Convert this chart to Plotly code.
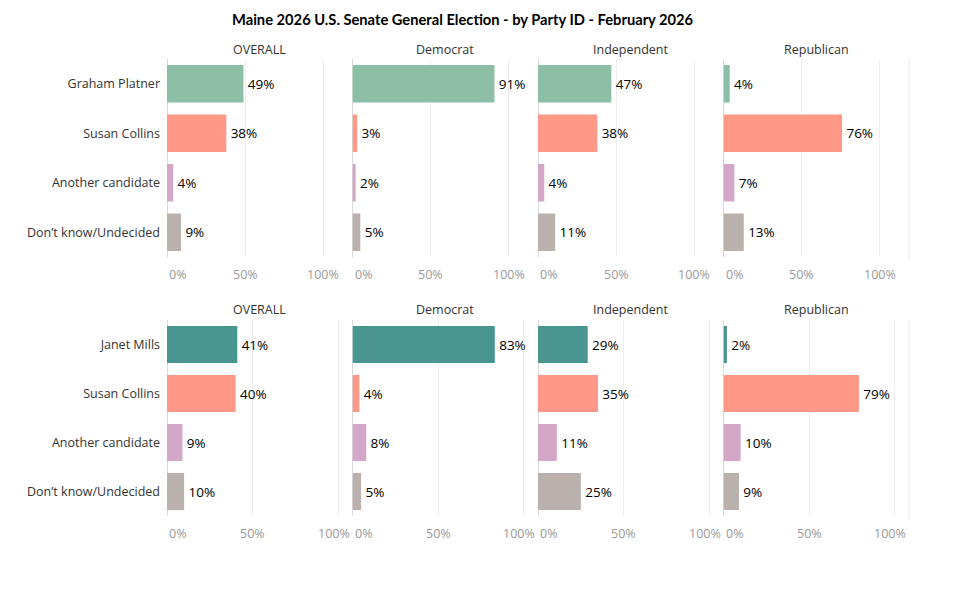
import plotly.graph_objects as go

# ---------------- data ----------------
title_text = "Maine 2026 U.S. Senate General Election - by Party ID - February 2026"
groups = ["OVERALL", "Democrat", "Independent", "Republican"]

categories_top = ["Graham Platner", "Susan Collins", "Another candidate", "Don’t know/Undecided"]
categories_bottom = ["Janet Mills", "Susan Collins", "Another candidate", "Don’t know/Undecided"]

top_overall = [49, 38, 4, 9]
top_democrat = [91, 3, 2, 5]
top_independent = [47, 38, 4, 11]
top_republican = [4, 76, 7, 13]

bottom_overall = [41, 40, 9, 10]
bottom_democrat = [83, 4, 8, 5]
bottom_independent = [29, 35, 11, 25]
bottom_republican = [2, 79, 10, 9]

tick_vals = [0, 0.5, 1.0]
tick_text = ["0%", "50%", "100%"]

colors_top = ["#8DBFA6", "#FF9886", "#D4A6C8", "#BAB0AC"]
colors_bottom = ["#48968F", "#FF9886", "#D4A6C8", "#BAB0AC"]

rows = [
    dict(cats=categories_top, colors=colors_top,
         values=[top_overall, top_democrat, top_independent, top_republican]),
    dict(cats=categories_bottom, colors=colors_bottom,
         values=[bottom_overall, bottom_democrat, bottom_independent, bottom_republican]),
]

# ---------------- layout geometry (pixels, page coords) ----------------
W, H = 964, 593
OFF = 8  # page body margin
FONT = "Open Sans"
x_starts = [167, 352.5, 538, 723.5]
pane_w = 185.5
row_y = [(59, 257), (320, 516)]       # pane top/bottom in px
row_range = [1.189, 1.082]
header_y = [49, 309]
tick_y = [274, 533.5]


def px(x):
    return (x - OFF) / W


def py(y):
    return 1 - (y - OFF) / H


fig = go.Figure()
layout = {}
annotations = []
shapes = []

for r, row in enumerate(rows):
    y0, y1 = row_y[r]
    for c in range(4):
        k = r * 4 + c + 1
        xa = "x" if k == 1 else f"x{k}"
        ya = "y" if k == 1 else f"y{k}"
        vals = row["values"][c]
        fig.add_trace(go.Bar(
            x=[v / 100 for v in vals],
            y=row["cats"],
            orientation="h",
            marker=dict(color=row["colors"], line=dict(width=0)),
            width=0.76,
            text=[f"\u200a{v}%" for v in vals],
            textposition="outside",
            textfont=dict(family=FONT, size=13.5, color="#000000"),
            cliponaxis=False,
            xaxis=xa, yaxis=ya,
            showlegend=False,
            hovertemplate="%{y}: %{x:.0%}<extra></extra>",
        ))
        xd = [px(x_starts[c]), px(x_starts[c] + pane_w)]
        yd = [py(y1), py(y0)]
        layout[f"xaxis{'' if k == 1 else k}"] = dict(
            domain=xd, anchor=ya, range=[0, row_range[r]],
            tickvals=tick_vals, showticklabels=False, ticks="",
            showgrid=True, gridcolor="#EEEEEE", gridwidth=1,
            zeroline=True, zerolinecolor="#DADADA", zerolinewidth=1,
            showline=False, fixedrange=True,
        )
        layout[f"yaxis{'' if k == 1 else k}"] = dict(
            domain=yd, anchor=xa, type="category",
            categoryorder="array", categoryarray=row["cats"],
            autorange="reversed",
            showticklabels=(c == 0), ticks="", ticklabelstandoff=6,
            tickfont=dict(family=FONT, size=12.5, color="#333333"),
            showgrid=False, zeroline=False, showline=False, fixedrange=True,
        )
        # column header
        annotations.append(dict(
            text=groups[c], xref=f"{xa} domain", x=0.5, yref="paper",
            y=py(header_y[r]), xanchor="center", yanchor="middle",
            showarrow=False, font=dict(family=FONT, size=12.5, color="#333333"),
        ))
        # tick labels
        for tv, tt in zip(tick_vals, tick_text):
            if tv == 0:
                xanchor, xpos, shift = "left", 0, 0
            elif tv == 1.0 and r == 1:
                xanchor, xpos, shift = "right", row_range[r], -1
            else:
                xanchor, xpos, shift = "center", tv, 0
            annotations.append(dict(
                text=tt, xref=xa, x=xpos, xshift=shift, yref="paper",
                y=py(tick_y[r]), xanchor=xanchor, yanchor="middle",
                showarrow=False, font=dict(family=FONT, size=12.5, color="#9A9A9A"),
            ))
    # right border of the last pane
    shapes.append(dict(
        type="line", xref="paper", yref="paper",
        x0=px(x_starts[3] + pane_w), x1=px(x_starts[3] + pane_w),
        y0=py(y1 + 4), y1=py(y0 - 1),
        line=dict(color="#EEEEEE", width=1),
    ))

annotations.append(dict(
    text=f"<b>{title_text}</b>", xref="paper", x=px(463), yref="paper",
    y=py(19), xanchor="center", yanchor="middle", showarrow=False,
    font=dict(family="Lato", size=14.7, color="#000000"),
))

fig.update_layout(
    width=W, height=H,
    margin=dict(l=0, r=0, t=0, b=0),
    paper_bgcolor="white", plot_bgcolor="white",
    annotations=annotations, shapes=shapes,
    bargap=0.24,
    **layout,
)

fig.write_html("out.html")
